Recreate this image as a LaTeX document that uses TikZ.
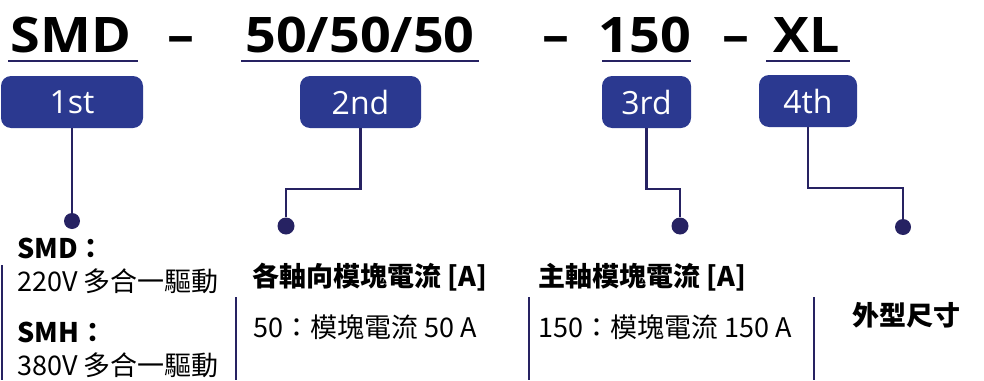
\documentclass[tikz,border=0pt]{standalone}
\usepackage{fontspec}
\setmainfont{Open Sans}
\newfontfamily\cjk{Noto Sans CJK TC}
\newfontfamily\codefont{Open Sans}[FakeStretch=1.1]
\usetikzlibrary{positioning, calc}
\definecolor{badgeblue}{HTML}{2B3990}
\definecolor{navy}{HTML}{262262}
\tikzset{
	title/.style={
		inner sep=0pt,
		anchor=base,
		font=\fontsize{49}{49}\selectfont\codefont\bfseries
	},
	uline/.style={
		draw=navy,
		line width=2.6pt
	},
	badge/.style={
		fill=badgeblue,
		rounded corners=10pt,
		text=white,
		minimum height=52pt,
		inner sep=0pt,
		font=\fontsize{32}{32}\selectfont
	},
	dot/.style={
		circle,
		fill=navy,
		inner sep=0pt,
		minimum size=17pt
	},
	link/.style={
		draw=navy,
		line width=2.3pt
	},
	sep/.style={
		draw=navy,
		line width=2pt
	},
	desc/.style={
		inner sep=0pt,
		anchor=base west,
		font=\fontsize{27}{27}\selectfont\cjk
	}
}

\begin{document}
\begin{tikzpicture}[x=1pt, y=-1pt]
\useasboundingbox (0,0) rectangle (984,380);

% code line
\node[title] (t1) at (71,52) {SMD};
\node[title] (s1) at (181,52) {–};
\node[title] (t2) at (360,52) {50/50/50};
\node[title] (s2) at (556,52) {–};
\node[title] (t3) at (645,52) {150};
\node[title] (s3) at (736,52) {–};
\node[title] (t4) at (807,52) {XL};

\draw[uline] (8,61) -- (138,61);
\draw[uline] (241,61) -- (479,61);
\draw[uline] (602,61) -- (691,61);
\draw[uline] (766,61) -- (850,61);

% badges
\node[badge, minimum width=142pt] (b1) at (72,102) {1st};
\node[badge, minimum width=121pt] (b2) at (360.5,102) {2nd};
\node[badge, minimum width=89pt] (b3) at (646.5,102) {3rd};
\node[badge, minimum width=98pt] (b4) at (808,101) {4th};

% dots
\node[dot, minimum size=16pt] (d1) at (72,221) {};
\node[dot] (d2) at (286,226) {};
\node[dot] (d3) at (680,226) {};
\node[dot, minimum size=16pt] (d4) at (903,227) {};

\draw[link] (b1.south) -- (d1);
\draw[link] (b2.south) -- ++(0,61) -| (d2);
\draw[link] (b3.south) -- ++(0,61) -| (d3);
\draw[link] (b4.south) -- ++(0,61) -| (d4);

% descriptions
\node[desc] (smd) at (17,258) {\bfseries SMD：};
\node[desc] (v220) at (17,291) {220V 多合一驅動};
\node[desc] (smh) at (17,342) {\bfseries SMH：};
\node[desc] (v380) at (17,375) {380V 多合一驅動};

\node[desc] (h2) at (252,286) {\bfseries 各軸向模塊電流 [A]};
\node[desc] (c2) at (253,337) {50：模塊電流 50 A};
\node[desc] (h3) at (538,286) {\bfseries 主軸模塊電流 [A]};
\node[desc] (c3) at (538,337) {150：模塊電流 150 A};
\node[desc] (h4) at (852,325) {\bfseries 外型尺寸};

\draw[sep] (2,265) -- (2,380);
\draw[sep] (236,297) -- (236,380);
\draw[sep] (529,297) -- (529,380);
\draw[sep] (814,297) -- (814,380);
\end{tikzpicture}
\end{document}
